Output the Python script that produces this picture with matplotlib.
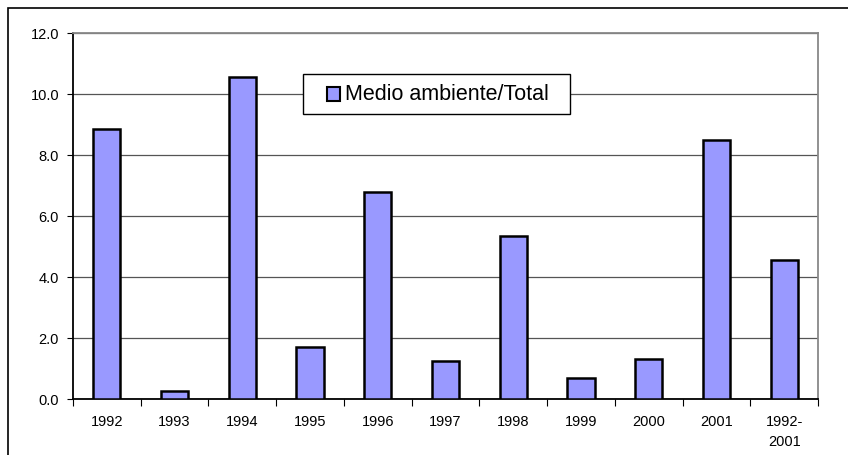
import matplotlib.pyplot as plt
from matplotlib.patches import Rectangle

# data
years = ['1992', '1993', '1994', '1995', '1996', '1997', '1998',
         '1999', '2000', '2001', '1992-\n2001']
values = [8.85, 0.25, 10.55, 1.7, 6.8, 1.25, 5.35, 0.7, 1.3, 8.5, 4.55]
series_name = 'Medio ambiente/Total'
bar_color = '#9999FF'

plt.rcParams['font.family'] = ['Liberation Sans', 'DejaVu Sans']

W, H = 848, 456
fig = plt.figure(figsize=(W / 100, H / 100), dpi=100)
ax = fig.add_axes([73 / W, 1 - 400 / H, (818 - 73) / W, (400 - 34) / H])


def px(x0, y0, x1, y1):
    # pixel box (top-left origin) -> figure fraction rectangle args
    return (x0 / W, 1 - y1 / H), (x1 - x0) / W, (y1 - y0) / H


# outer frame of the chart
fig.patches.append(Rectangle((8 / W, -0.05), 1.2, 1 - 9 / H + 0.05,
                             transform=fig.transFigure, fill=False,
                             edgecolor='black', linewidth=1.2))

x = range(len(years))
ax.bar(x, values, width=0.4, color=bar_color, edgecolor='black',
       linewidth=1.8, zorder=3)

ax.set_xlim(-0.5, len(years) - 0.5)
ax.set_ylim(0, 12)
ax.set_yticks([0, 2, 4, 6, 8, 10, 12])
ax.set_yticklabels(['0.0', '2.0', '4.0', '6.0', '8.0', '10.0', '12.0'])
ax.yaxis.grid(True, color='#555555', linewidth=0.9, zorder=0)

ax.set_xticks([i + 0.5 for i in range(-1, len(years))], minor=False)
ax.set_xticklabels([])
ax.set_xticks(list(x), minor=True)
ax.set_xticklabels(years, minor=True, linespacing=1.5)
ax.tick_params(axis='x', which='major', length=5, direction='out', color='black')
ax.tick_params(axis='x', which='minor', length=0, pad=11, labelsize=10.5)
ax.tick_params(axis='y', length=4, direction='out', labelsize=10.5, pad=6)

ax.spines['left'].set_color('black')
ax.spines['bottom'].set_color('black')
ax.spines['top'].set_color('#888888')
ax.spines['right'].set_color('#888888')
for s in ax.spines.values():
    s.set_linewidth(1.3)

# legend box drawn by hand to get the wide padding of the original
xy, w, h = px(303, 75, 570, 115)
fig.patches.append(Rectangle(xy, w, h, transform=fig.transFigure,
                             facecolor='white', edgecolor='black',
                             linewidth=1.0, zorder=5))
xy, w, h = px(327, 88, 340, 102)
fig.patches.append(Rectangle(xy, w, h, transform=fig.transFigure,
                             facecolor=bar_color, edgecolor='black',
                             linewidth=1.5, zorder=6))
fig.text(345 / W, 1 - 95 / H, series_name, fontsize=15.5,
         ha='left', va='center', zorder=7)

fig.savefig('out.png', dpi=100)
